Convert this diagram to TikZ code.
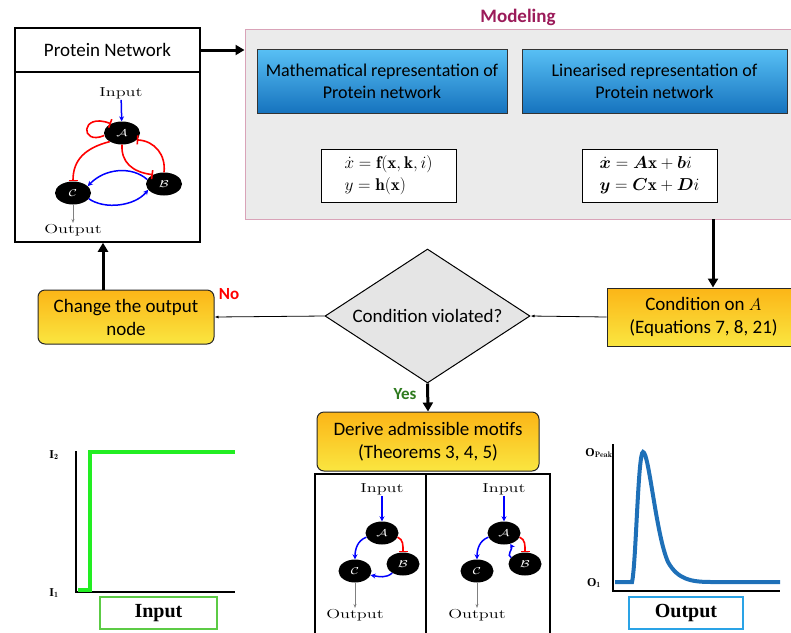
\documentclass[tikz,border=0pt]{standalone}
\usepackage{fontspec}
\usepackage{amsmath}
\usetikzlibrary{shapes.geometric,arrows.meta,positioning}
\newfontfamily\calibri{Carlito}
\newfontfamily\tnr{Liberation Serif}
\definecolor{modred}{HTML}{9B1B5A}
\definecolor{modgray}{HTML}{EBEBEB}
\definecolor{modpink}{HTML}{D9A3B8}
\definecolor{boxorange}{HTML}{FBB517}
\definecolor{boxyellow}{HTML}{FAE640}
\definecolor{skyblue}{HTML}{58C0F5}
\definecolor{deepblue}{HTML}{1673BE}
\definecolor{stepgreen}{HTML}{22EE22}
\definecolor{taggreen}{HTML}{5CCB45}
\definecolor{peakblue}{HTML}{1E70B8}
\definecolor{tagblue}{HTML}{2AA3E6}
\definecolor{yesgreen}{HTML}{2E7A1E}
\newcommand{\wide}[1]{\scalebox{1.4}[1]{#1}}
\tikzset{
  prot/.style={ellipse, fill=black, text=white, minimum width=36, minimum height=23, inner sep=0pt},
  lbl/.style={font=\fontsize{13}{13}\selectfont, inner sep=1pt},
  act/.style={blue, line width=1.5pt, -{Stealth[length=5pt,width=5pt]}},
  inh/.style={red, line width=1.6pt, -{Bar[width=9pt]}},
  outarr/.style={gray, line width=0.7pt, -{Stealth[length=4pt,width=3pt]}},
  flow/.style={line width=3pt, -{Triangle[length=9pt,width=10pt]}},
  thinflow/.style={line width=0.8pt, -{Latex[length=4pt,width=3pt]}},
  bluebox/.style={draw=black!80, line width=1pt, top color=skyblue, bottom color=deepblue,
    font=\calibri\fontsize{18}{22}\selectfont, align=center, minimum height=64},
  orangebox/.style={draw=black!85, line width=1pt, top color=boxorange, bottom color=boxyellow,
    font=\calibri\fontsize{19}{23}\selectfont, align=center},
  eqbox/.style={draw, line width=1pt, fill=white, minimum width=135, minimum height=53,
    font=\fontsize{17}{20}\selectfont},
  plotaxis/.style={line width=2.5pt},
  axlabel/.style={font=\tnr\bfseries\fontsize{12}{12}\selectfont, inner sep=0pt},
  tag/.style={draw, line width=2pt, minimum height=32, font=\tnr\bfseries\fontsize{20}{20}\selectfont}
}

\begin{document}
\begin{tikzpicture}[x=1pt,y=1pt]
\useasboundingbox (0,0) rectangle (791,-632);

% protein network
\node[draw, line width=1.5pt, minimum width=185, minimum height=44, font=\calibri\fontsize{19}{19}\selectfont] (pnet) at (107.5,-50) {Protein Network};
\node[draw, line width=1.5pt, minimum width=185, minimum height=170] (pbox) at (107.5,-157) {};
\node[lbl] (inp) at (121,-93) {\wide{Input}};
\node[prot] (a) at (122,-133) {\wide{$\mathcal{A}$}};
\node[prot] (c) at (73,-193) {\wide{$\mathcal{C}$}};
\node[prot] (b) at (164,-184) {\wide{$\mathcal{B}$}};
\node[lbl] (outp) at (73,-230) {\wide{Output}};
\draw[act] (inp) -- (a);
\draw[inh] (a.188) .. controls (80,-146) and (80,-112) .. (a.140);
\draw[inh] (a.215) .. controls (85,-148) and (73,-160) .. (c.north);
\draw[inh] (a.south) .. controls (121,-162) and (132,-172) .. (b.140);
\draw[inh] (b.north) .. controls (166,-155) and (155,-141) .. (a.-25);
\draw[act] (b.165) .. controls (132,-166) and (105,-168) .. (c.25);
\draw[act] (c.-20) .. controls (105,-210) and (135,-206) .. (b.200);
\draw[outarr] (c) -- (outp);

% modeling
\node[draw=modpink, line width=1pt, fill=modgray, minimum width=560, minimum height=190] (model) at (525,-124) {};
\node[font=\calibri\bfseries\fontsize{19}{19}\selectfont, text=modred] (mtitle) at (518,-17) {Modeling};
\node[bluebox, minimum width=250] (math) at (382,-81) {Mathematical representation of\\Protein network};
\node[bluebox, minimum width=265] (lin) at (654.5,-81) {Linearised representation of\\Protein network};
\node[eqbox] (eqa) at (388.5,-175.5) {$\begin{array}{l}\dot{x}=\mathbf{f}(\mathbf{x},\mathbf{k},i)\\[2pt] y=\mathbf{h}(\mathbf{x})\end{array}$};
\node[eqbox] (eqb) at (649.5,-175.5) {$\begin{array}{l}\dot{\boldsymbol{x}}=\boldsymbol{A}\mathbf{x}+\boldsymbol{b}i\\[2pt] \boldsymbol{y}=\boldsymbol{C}\mathbf{x}+\boldsymbol{D}i\end{array}$};
\draw[flow] (pnet.east) -- (model.west |- pnet.east);

% decision row
\coordinate (mdrop) at (713,-219);
\node[orangebox, minimum width=193, minimum height=58] (cond) at (703.5,-317) {Condition on $A$\\(Equations 7, 8, 21)};
\node[diamond, draw, line width=1pt, fill=black!10, minimum width=205, minimum height=134, aspect=1.53, inner sep=0pt,
  font=\calibri\fontsize{19}{19}\selectfont] (dec) at (427.5,-316) {Condition violated?};
\node[orangebox, rounded corners=7pt, minimum width=176, minimum height=54] (chg) at (126,-317) {Change the output\\node};
\draw[flow] (mdrop) -- (mdrop |- cond.north);
\draw[thinflow] (cond.west) -- (dec.east);
\draw[thinflow] (dec.west) -- (chg.east);
\draw[flow] ([xshift=-23pt]chg.north) -- ([xshift=-23pt]chg.north |- pbox.south);
\node[font=\calibri\bfseries\fontsize{17}{17}\selectfont, text=red] (no) at (229,-294) {No};
\node[font=\calibri\bfseries\fontsize{17}{17}\selectfont, text=yesgreen] (yes) at (405,-394) {Yes};

% admissible motifs
\node[orangebox, rounded corners=7pt, minimum width=222, minimum height=59] (der) at (428,-441.5) {Derive admissible motifs\\(Theorems 3, 4, 5)};
\draw[flow] (dec.south) -- (der.north);
\node[draw, line width=1.5pt, minimum width=111, minimum height=160] (mot1) at (370.5,-554) {};
\node[draw, line width=1.5pt, minimum width=124, minimum height=160] (mot2) at (488,-554) {};
\foreach \m/\x in {m1/382, m2/504} {
  \node[lbl] (\m i) at (\x,-489) {\wide{Input}};
  \node[prot, minimum width=33] (\m a) at (\x,-533) {\wide{$\mathcal{A}$}};
  \node[prot, minimum width=33] (\m c) at (\x-27,-571) {\wide{$\mathcal{C}$}};
  \node[prot, minimum width=33] (\m b) at (\x+21,-564) {\wide{$\mathcal{B}$}};
  \node[lbl] (\m o) at (\x-27,-615) {\wide{Output}};
  \draw[act] (\m i) -- (\m a);
  \draw[act] (\m a.195) to[out=200,in=90] (\m c.north);
  \draw[inh] (\m a.-15) to[out=-20,in=90] (\m b.north);
  \draw[outarr] (\m c) -- (\m o);
}
\draw[act] (m1b.220) to[out=220,in=-10] (m1c.-15);
\draw[act] (m2b.155) to[out=160,in=-60] (m2a.-60);

% input plot
\draw[plotaxis] (76,-451) -- (76,-592) -- (235,-592);
\draw[stepgreen, line width=4pt] (78,-590) -- (90,-590) -- (90,-452) -- (235,-452);
\node[axlabel] (i2) at (54,-455) {I$_{\mathbf{2}}$};
\node[axlabel] (i1) at (54,-593) {I$_{\mathbf{1}}$};
\node[tag, draw=taggreen, minimum width=117] (intag) at (158.5,-613) {Input};

% output plot
\draw[plotaxis] (613,-444) -- (613,-591) -- (780,-591);
\draw[peakblue, line width=4pt] (615,-582) -- (632,-582) .. controls (636,-565) and (638,-452) .. (643,-452)
  .. controls (649,-452) and (656,-535) .. (668,-562) .. controls (678,-580) and (692,-582) .. (712,-582) -- (780,-582);
\node[axlabel] (opeak) at (599,-453) {O$_{\mathbf{Peak}}$};
\node[axlabel] (o1) at (594,-583) {O$_{\mathbf{1}}$};
\node[tag, draw=tagblue, minimum width=114] (outtag) at (686,-612.5) {Output};
\end{tikzpicture}
\end{document}
